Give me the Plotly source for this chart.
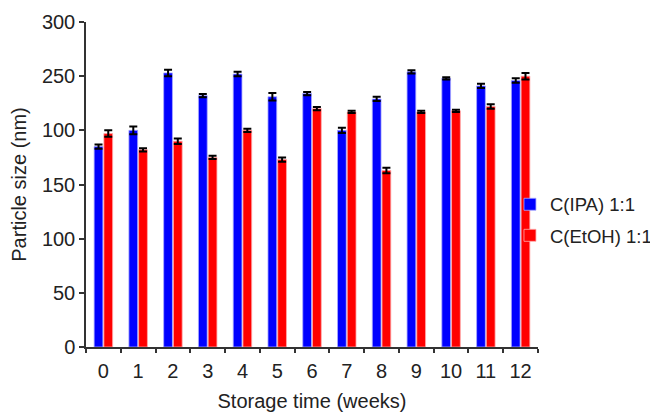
import plotly.graph_objects as go

weeks = ["0", "1", "2", "3", "4", "5", "6", "7", "8", "9", "10", "11", "12"]
ipa = [185, 200, 253, 232, 252, 231, 234, 200, 229, 254, 248, 241, 246]
ipa_err = [2, 3.5, 3, 1.5, 2, 3.5, 1.5, 2.5, 2, 1.5, 1, 2, 2]
etoh = [197, 182, 190, 175, 200, 173, 220, 217, 163, 217, 218, 222, 250]
etoh_err = [3, 1.5, 2.5, 1.5, 1.5, 2, 1.5, 1, 2.5, 1, 1, 2, 3]
ytick_vals = [0, 50, 100, 150, 200, 250, 300]
ytick_text = ["0", "50", "100", "150", "100", "250", "300"]

font_family = "Liberation Sans, Arial, sans-serif"
txt = "#222222"

fig = go.Figure()
fig.add_trace(go.Bar(
    x=weeks, y=ipa, name="C(IPA) 1:1", legendgroup="a",
    marker=dict(color="#0000FF", line=dict(color="rgba(170,170,255,0.8)", width=1)),
    error_y=dict(type="data", array=ipa_err, color="black", thickness=2, width=4),
))
fig.add_trace(go.Bar(
    x=weeks, y=etoh, name="C(EtOH) 1:1", legendgroup="b",
    marker=dict(color="#FF0000", line=dict(color="rgba(255,170,170,0.8)", width=1)),
    error_y=dict(type="data", array=etoh_err, color="black", thickness=2, width=4),
))

fig.update_layout(
    width=650, height=404,
    margin=dict(l=78, r=120, t=14, b=65, autoexpand=False),
    paper_bgcolor="white", plot_bgcolor="white",
    barmode="group", bargap=0.44, bargroupgap=0.1,
    font=dict(family=font_family, size=20, color=txt),
    showlegend=True,
    legend=dict(x=0.938, xanchor="left", y=0.39, yanchor="middle",
                tracegroupgap=4, itemwidth=30, borderwidth=0,
                font=dict(size=18.5, color=txt), bgcolor="rgba(0,0,0,0)"),
    xaxis=dict(
        type="category", range=[-0.5, 12.5], automargin=False,
        showline=True, linecolor="#333", linewidth=1.5,
        ticks="outside", ticklen=4, tickcolor="#333", tickwidth=1.5,
        tickson="boundaries", showgrid=False, ticklabelstandoff=5,
        title=dict(text="Storage time (weeks)", standoff=14, font=dict(size=20)),
        tickfont=dict(size=20),
    ),
    yaxis=dict(
        range=[0, 300], tickvals=ytick_vals, ticktext=ytick_text, automargin=False,
        showline=True, linecolor="#333", linewidth=1.5,
        ticks="outside", ticklen=5, tickcolor="#333", tickwidth=1.5,
        showgrid=False, zeroline=False,
        title=dict(text="Particle size (nm)", standoff=10, font=dict(size=20)),
        tickfont=dict(size=20),
    ),
)

fig.write_html("out.html")
